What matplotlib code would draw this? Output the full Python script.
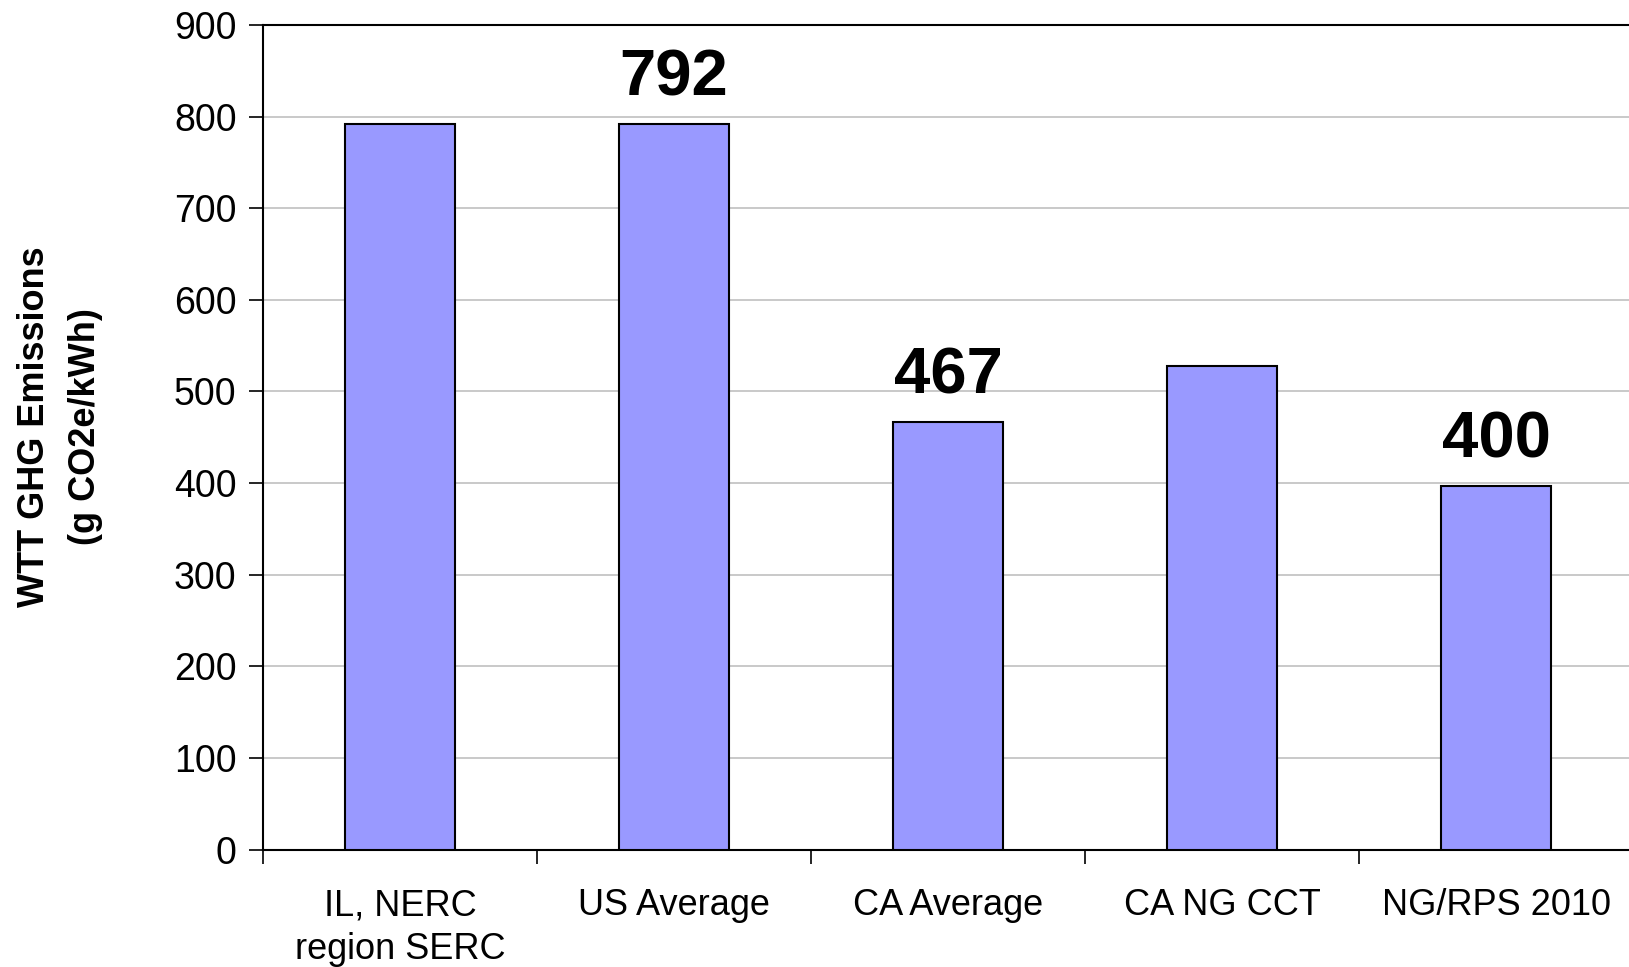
import matplotlib.pyplot as plt
import numpy as np

plt.rcParams['font.family'] = ['Liberation Sans', 'DejaVu Sans']

categories = ['IL, NERC\nregion SERC', 'US Average', 'CA Average', 'CA NG CCT', 'NG/RPS 2010']
values = [792, 792, 467, 528, 397]
bar_labels = ['', '792', '467', '', '400']

fig = plt.figure(figsize=(16.29, 9.67), dpi=100)
ax = fig.add_axes([263 / 1629, 1 - 849.6 / 967, (1633 - 263) / 1629, (849.6 - 24.9) / 967])

x = np.arange(len(categories))
ax.bar(x, values, width=0.4, color='#9999FF', edgecolor='black', linewidth=1.5, zorder=3)

for xi, v, lab in zip(x, values, bar_labels):
    if lab:
        ax.annotate(lab, (xi, v), xytext=(0, 11), textcoords='offset points',
                    ha='center', va='bottom', fontsize=47, fontweight='bold')

ax.set_xlim(-0.5, len(categories) - 0.5)
ax.set_ylim(0, 900)
ax.set_yticks(np.arange(0, 901, 100))
ax.yaxis.grid(True, color='#c0c0c0', linewidth=1.2, zorder=0)

ax.set_xticks(np.arange(-0.5, len(categories), 1.0))
ax.set_xticklabels([])
ax.set_xticks(x, minor=True)
ax.set_xticklabels(categories, minor=True, fontsize=26, linespacing=1.3)
ax.tick_params(axis='x', which='minor', length=0, pad=28)
ax.tick_params(axis='x', which='major', length=10, width=1.2, direction='out')
ax.tick_params(axis='y', length=10, width=1.2, direction='out', labelsize=27, pad=9)

ax.spines['right'].set_visible(False)
for s in ['left', 'bottom', 'top']:
    ax.spines[s].set_linewidth(1.5)

fig.text(0.037, 0.559, 'WTT GHG Emissions\n(g CO2e/kWh)', rotation=90, ha='center', va='center',
         fontsize=26, fontweight='bold', linespacing=1.6)

fig.savefig('out.png', dpi=100)
